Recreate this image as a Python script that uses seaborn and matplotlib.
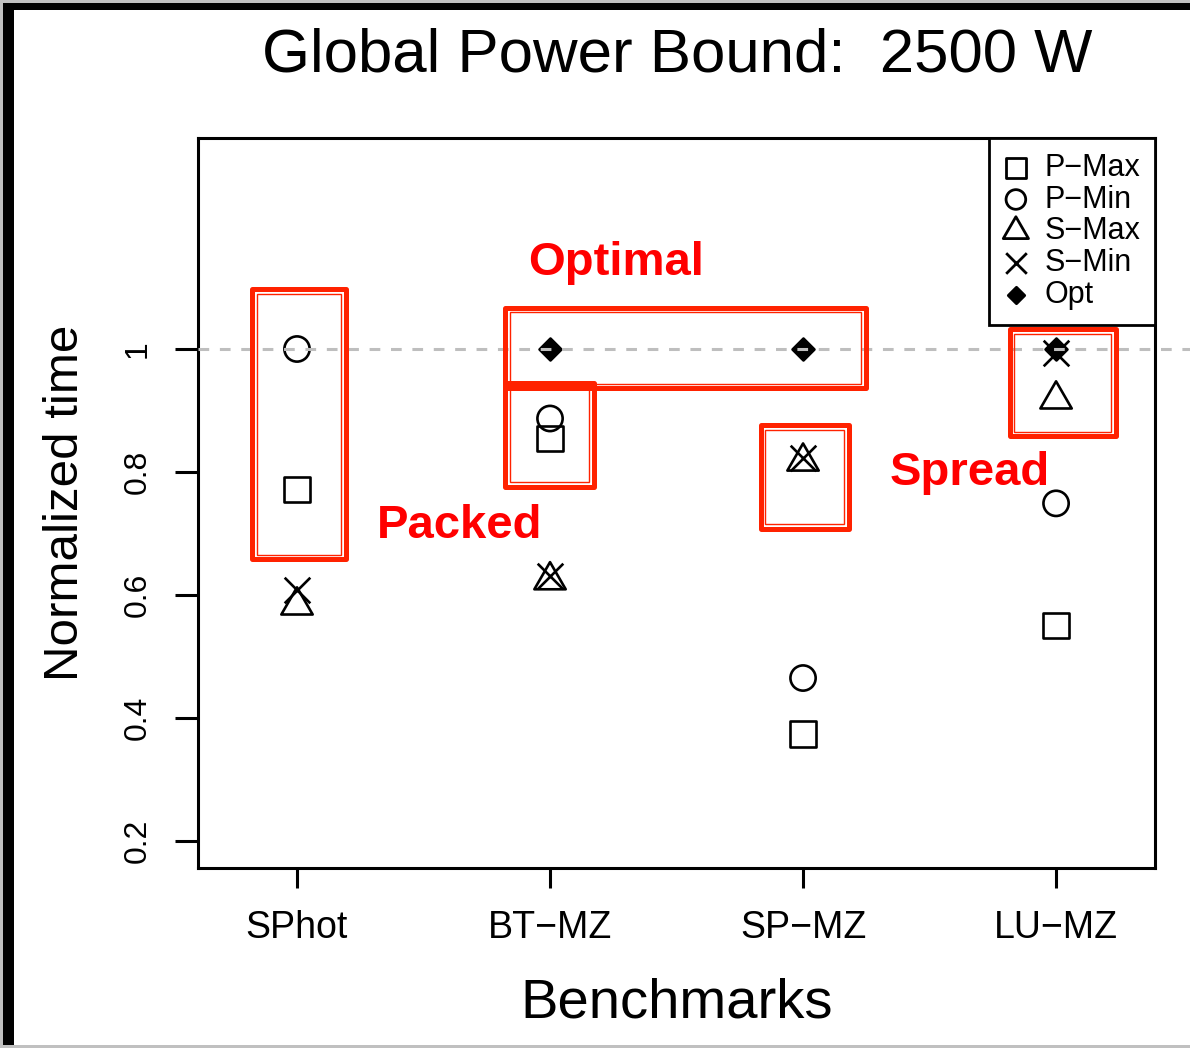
import numpy as np
import pandas as pd
import matplotlib
matplotlib.use("Agg")
import matplotlib.pyplot as plt
import seaborn as sns
from matplotlib.markers import MarkerStyle
from matplotlib.patches import Rectangle
from matplotlib.path import Path

# data
benchmarks = ["SPhot", "BT\u2212MZ", "SP\u2212MZ", "LU\u2212MZ"]
p_max = [0.771, 0.854, 0.374, 0.551]
p_min = [1.000, 0.887, 0.465, 0.749]
s_max = [0.583, 0.624, 0.817, 0.918]
s_min = [0.608, 0.631, 0.823, 0.993]
opt = [np.nan, 1.0, 1.0, 1.0]
series_names = ["P\u2212Max", "P\u2212Min", "S\u2212Max", "S\u2212Min", "Opt"]

y_ticks = [0.2, 0.4, 0.6, 0.8, 1.0]
y_ticklabels = ["0.2", "0.4", "0.6", "0.8", "1"]

# red annotation boxes (x0, x1, y0, y1) in data units and their labels
annot_boxes = [
    (0.824, 1.192, 0.658, 1.097),
    (1.824, 3.247, 0.936, 1.067),
    (1.824, 2.172, 0.776, 0.944),
    (2.832, 3.180, 0.708, 0.876),
    (3.816, 4.235, 0.858, 1.032),
]
annot_text = [("Optimal", 1.913, 1.120), ("Packed", 1.316, 0.693), ("Spread", 3.344, 0.779)]

sns.set_style("ticks")
plt.rcParams["font.family"] = ["Liberation Sans", "DejaVu Sans"]
plt.rcParams["axes.unicode_minus"] = True
plt.rcParams["text.color"] = "black"
plt.rcParams["xtick.color"] = "black"
plt.rcParams["ytick.color"] = "black"
plt.rcParams["axes.edgecolor"] = "black"

W, H = 1190, 1048
fig = plt.figure(figsize=(W / 100, H / 100), dpi=100)
ax = fig.add_axes([198 / W, 1 - 868 / H, (1155 - 198) / W, (868 - 138) / H])

pos = np.arange(1, len(benchmarks) + 1)
df = pd.DataFrame({"pos": pos, "P-Max": p_max, "P-Min": p_min,
                   "S-Max": s_max, "S-Min": s_min, "Opt": opt})

tri = Path([(-1, -0.577), (1, -0.577), (0, 1.155), (-1, -0.577)],
           [Path.MOVETO, Path.LINETO, Path.LINETO, Path.CLOSEPOLY])
styles = [
    ("P-Max", MarkerStyle("s", fillstyle="none"), 330, {}),
    ("P-Min", MarkerStyle("o", fillstyle="none"), 330, {}),
    ("S-Max", MarkerStyle(tri, fillstyle="none"), 680, {}),
    ("S-Min", "x", 340, {}),
    ("Opt", "D", 125, {"edgecolor": "black"}),
]
for (col, mk, sz, extra), name in zip(styles, series_names):
    sns.scatterplot(data=df, x="pos", y=col, marker=mk, s=sz, color="black",
                    linewidth=1.9, ax=ax, label=name, zorder=3, **extra)

# dashed reference line at 1 (runs past the right edge like the original)
ax.plot([0, 1.037], [1, 1], transform=ax.get_yaxis_transform(), color="#bebebe",
        lw=2.2, dashes=(3.5, 3.5), clip_on=False, zorder=4)

ax.set_xlim(0.6087, 4.391)
ax.set_ylim(0.1561, 1.3431)
ax.set_xticks(pos)
ax.set_xticklabels(benchmarks, fontsize=27)
ax.set_yticks(y_ticks)
ax.set_yticklabels(y_ticklabels, fontsize=23)
ax.set_xlabel("")
ax.set_ylabel("")
ax.tick_params(axis="x", length=14.5, width=2.2, pad=16, color="black")
ax.tick_params(axis="y", length=16.5, width=2.2, pad=16, color="black", labelrotation=90)
for lbl in ax.get_yticklabels():
    lbl.set_va("center")
for sp in ax.spines.values():
    sp.set_visible(True)
    sp.set_linewidth(2.2)
    sp.set_color("black")

# red boxes: thick outer line plus thin inner line
x_px = (1155 - 198) / (4.391 - 0.6087)
y_px = (868 - 138) / (1.3431 - 0.1561)
ix, iy = 4.5 / x_px, 4.5 / y_px
for x0, x1, y0, y1 in annot_boxes:
    ax.add_patch(Rectangle((x0, y0), x1 - x0, y1 - y0, fill=False, ec="#ff2200",
                           lw=3.6, joinstyle="round", zorder=6, clip_on=False))
    ax.add_patch(Rectangle((x0 + ix, y0 + iy), x1 - x0 - 2 * ix, y1 - y0 - 2 * iy,
                           fill=False, ec="#ff2200", lw=1.0, zorder=6, clip_on=False))
for txt, tx, ty in annot_text:
    ax.text(tx, ty, txt, color="#ff0000", fontsize=34, fontweight="bold",
            ha="left", va="baseline", zorder=7)

leg = ax.legend(loc="upper right", bbox_to_anchor=(1, 1), borderaxespad=0,
                fontsize=22, frameon=True, fancybox=False, framealpha=1,
                edgecolor="black", handlelength=0.83, handletextpad=0.52,
                labelspacing=0.06, borderpad=0.48)
leg.get_frame().set_linewidth(2.0)
leg.set_zorder(5)
for h, s in zip(leg.legend_handles, [210, 200, 440, 220, 70]):
    h.set_sizes([s])
    h.set_linewidth(2.0)

# titles and axis labels
fig.text(677 / W, 1 - 71 / H, "Global Power Bound:  2500 W", fontsize=44.5,
         ha="center", va="baseline")
fig.text(677 / W, 1 - 1017 / H, "Benchmarks", fontsize=40.5, ha="center", va="baseline")
fig.text(78 / W, 1 - 503 / H, "Normalized time", fontsize=35.5, rotation=90,
         rotation_mode="anchor", ha="center", va="baseline")

# screenshot frame
fig.add_artist(Rectangle((0, 0), 3 / W, 1, transform=fig.transFigure, color="#c0c0c0", lw=0))
fig.add_artist(Rectangle((3 / W, 0), 11 / W, 1, transform=fig.transFigure, color="black", lw=0))
fig.add_artist(Rectangle((0, 1 - 3 / H), 1, 3 / H, transform=fig.transFigure, color="#c0c0c0", lw=0))
fig.add_artist(Rectangle((3 / W, 1 - 10 / H), 1, 7 / H, transform=fig.transFigure, color="black", lw=0))
fig.add_artist(Rectangle((0, 0), 1, 3 / H, transform=fig.transFigure, color="#c0c0c0", lw=0))

fig.savefig("out.png", dpi=100)
